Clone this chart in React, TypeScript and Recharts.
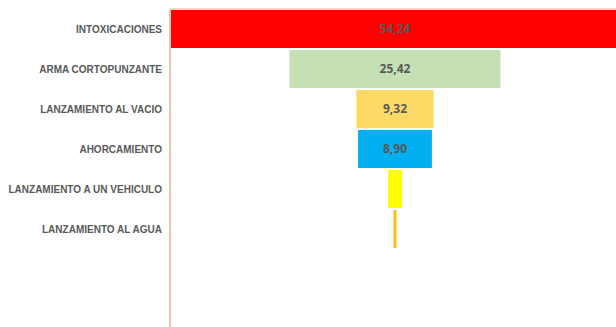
import { BarChart, Bar, XAxis, YAxis, Cell, LabelList } from "recharts";

// Funnel of causes, values in percent
const causes = [
  "INTOXICACIONES",
  "ARMA CORTOPUNZANTE",
  "LANZAMIENTO AL VACIO",
  "AHORCAMIENTO",
  "LANZAMIENTO A UN VEHICULO",
  "LANZAMIENTO AL AGUA",
];
const percents = [54.24, 25.42, 9.32, 8.9, 1.69, 0.35];
const colors = ["#FF0000", "#C5E0B4", "#FFD966", "#00B0F0", "#FFFF00", "#FFC000"];

const maxValue = Math.max(...percents);

// invisible spacer on the left centres each bar (funnel look)
const data = causes.map((name, i) => ({
  name,
  spacer: (maxValue - percents[i]) / 2,
  value: percents[i],
}));

const formatLabel = (v: number) => (v < 2 ? "" : v.toFixed(2).replace(".", ","));

// plain svg text so long names stay on one line
const CauseTick = (props: any) => {
  const { x, y, payload } = props;
  return (
    <text
      x={x}
      y={y}
      dy={3.5}
      textAnchor="end"
      fill="#595959"
      fontSize={10}
      fontWeight="bold"
      fontFamily="Liberation Sans, Arial, sans-serif"
    >
      {payload.value}
    </text>
  );
};

export default function App() {
  return (
    <div
      style={{
        position: "absolute",
        left: 0,
        top: 0,
        width: 616,
        height: 327,
        overflow: "hidden",
        background: "#fff",
      }}
    >
      <BarChart
        width={620}
        height={327}
        data={data}
        layout="vertical"
        margin={{ top: 8, right: 0, left: 0, bottom: 0 }}
        barCategoryGap={1}
      >
        <XAxis
          type="number"
          orientation="top"
          domain={[0, maxValue]}
          height={1}
          tick={false}
          tickLine={false}
          axisLine={{ stroke: "#F8CBAD", strokeWidth: 1.5 }}
        />
        <YAxis
          type="category"
          dataKey="name"
          width={170}
          padding={{ top: 0, bottom: 78 }}
          tickLine={false}
          axisLine={{ stroke: "#F4C7A8", strokeWidth: 2 }}
          tick={<CauseTick />}
        />
        <Bar dataKey="spacer" stackId="f" fill="transparent" isAnimationActive={false} />
        <Bar dataKey="value" stackId="f" isAnimationActive={false}>
          {data.map((d, i) => (
            <Cell key={d.name} fill={colors[i]} />
          ))}
          <LabelList
            dataKey="value"
            position="center"
            formatter={(v: any) => formatLabel(Number(v))}
            style={{
              fill: "#595959",
              fontSize: 12,
              fontWeight: "bold",
              fontFamily: "Open Sans, sans-serif",
            }}
          />
        </Bar>
      </BarChart>
    </div>
  );
}
